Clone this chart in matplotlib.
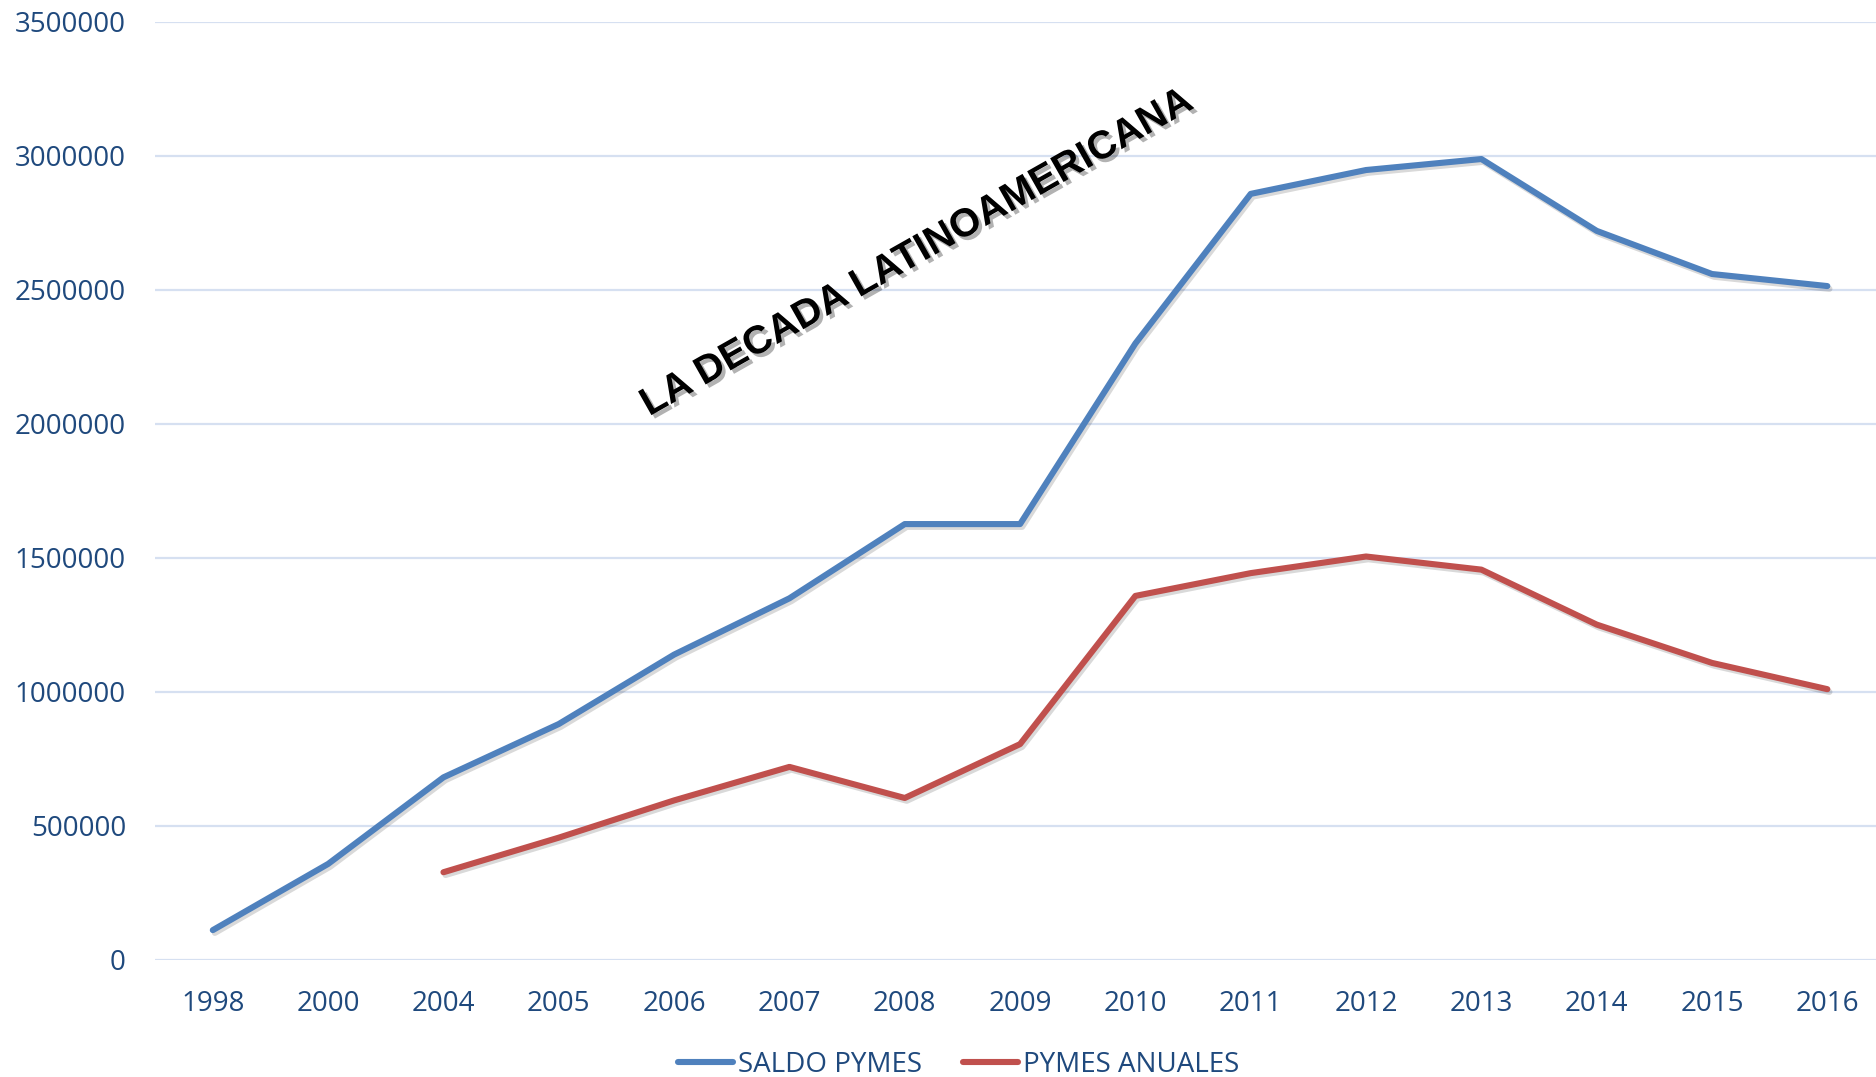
import matplotlib
matplotlib.use("Agg")
import matplotlib.pyplot as plt
import matplotlib.patheffects as pe
from matplotlib.ticker import FixedLocator

years = ["1998", "2000", "2004", "2005", "2006", "2007", "2008", "2009",
         "2010", "2011", "2012", "2013", "2014", "2015", "2016"]
saldo_pymes = [110000, 357000, 680000, 879000, 1138000, 1348000, 1625000, 1625000,
               2299000, 2857000, 2946000, 2987000, 2719000, 2558000, 2513000]
anual_years = ["2004", "2005", "2006", "2007", "2008", "2009", "2010",
               "2011", "2012", "2013", "2014", "2015", "2016"]
pymes_anuales = [326000, 455000, 594000, 719000, 603000, 804000, 1357000,
                 1442000, 1504000, 1455000, 1250000, 1107000, 1009000]
y_ticks = [0, 500000, 1000000, 1500000, 2000000, 2500000, 3000000, 3500000]
series_names = ["SALDO PYMES", "PYMES ANUALES"]
annotation = "LA DECADA LATINOAMERICANA"

BLUE = "#4F81BD"
RED = "#C0504D"
TXT = "#1F497D"
GRID = "#D6E0F1"

plt.rcParams["font.family"] = ["Open Sans", "DejaVu Sans"]

fig = plt.figure(figsize=(18.76, 10.77), dpi=100)
ax = fig.add_axes([0.0827, 0.109, 1.0048 - 0.0827, 0.871])

x_all = list(range(len(years)))
x_an = [years.index(y) for y in anual_years]

shadow = [pe.SimpleLineShadow(offset=(1.5, -2), alpha=0.15, shadow_color="black"), pe.Normal()]
ax.plot(x_all, saldo_pymes, color=BLUE, lw=4.4, solid_capstyle="round",
        solid_joinstyle="round", label=series_names[0], path_effects=shadow, zorder=3)
ax.plot(x_an, pymes_anuales, color=RED, lw=4.4, solid_capstyle="round",
        solid_joinstyle="round", label=series_names[1], path_effects=shadow, zorder=3)

ax.set_xlim(-0.5, len(years) - 0.5)
ax.set_ylim(0, 3500000)
ax.yaxis.set_major_locator(FixedLocator(y_ticks))
ax.set_yticklabels([str(v) for v in y_ticks])
ax.set_xticks(x_all)
ax.set_xticklabels(years)
ax.grid(axis="y", color=GRID, lw=1.6)
ax.set_axisbelow(True)
for s in ax.spines.values():
    s.set_visible(False)
ax.tick_params(axis="both", length=0, labelsize=20, labelcolor=TXT)
ax.tick_params(axis="x", pad=22)
ax.tick_params(axis="y", pad=21)
ax.patch.set_alpha(0)

t = fig.text(0.4915, 0.7567, annotation, rotation=29.5, rotation_mode="anchor",
             ha="center", va="baseline", fontsize=28.5, fontweight="bold",
             family=["Liberation Sans Narrow", "Liberation Sans", "DejaVu Sans"],
             color="black")
t.set_path_effects([pe.withSimplePatchShadow(offset=(2.5, -2.5), shadow_rgbFace="black", alpha=0.3)])

handles, labels = ax.get_legend_handles_labels()
leg = fig.legend(handles, labels, loc="center", bbox_to_anchor=(0.511, 0.011),
                 ncol=2, frameon=False, fontsize=20, handlelength=2.0,
                 handletextpad=0.18, columnspacing=1.45, borderpad=0)
for txt in leg.get_texts():
    txt.set_color(TXT)
for h in leg.get_lines():
    h.set_path_effects([pe.Normal()])
    h.set_solid_capstyle("round")

fig.savefig("out.png", dpi=100)
